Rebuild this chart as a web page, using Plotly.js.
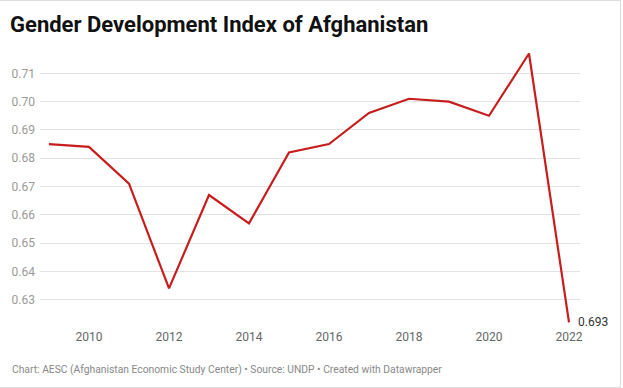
<!DOCTYPE html>
<html>
<head>
<meta charset="utf-8">
<script src="https://cdn.plot.ly/plotly-3.0.1.min.js"></script>
<style>
html,body{margin:0;padding:0;background:#fff;}
#chart{width:623px;height:388px;}
#frame{position:absolute;left:-1px;top:0;width:621px;height:386px;border-top:1px solid #ddd;border-right:1px solid #ddd;border-bottom:1px solid #ddd;pointer-events:none;}
</style>
</head>
<body>
<div id="chart"></div>
<div id="frame"></div>
<script>
const years = [2009,2010,2011,2012,2013,2014,2015,2016,2017,2018,2019,2020,2021,2022];
const gdi = [0.685,0.684,0.671,0.634,0.667,0.657,0.682,0.685,0.696,0.701,0.700,0.695,0.717,0.622];
const lastLabel = "0.693";
const xTicks = [2010,2012,2014,2016,2018,2020,2022];
const yTicks = [0.63,0.64,0.65,0.66,0.67,0.68,0.69,0.70,0.71];
const yTickText = ["0.63","0.64","0.65","0.66","0.67","0.68","0.69","0.70","0.71"];

const trace = {
  x: years, y: gdi, type: 'scatter', mode: 'lines',
  line: {color: '#c71e1d', width: 2.2},
  hoverinfo: 'x+y'
};

const layout = {
  width: 623, height: 388,
  margin: {l: 40, r: 43, t: 45, b: 60},
  paper_bgcolor: '#fff', plot_bgcolor: '#fff',
  font: {family: 'Roboto, sans-serif'},
  showlegend: false,
  title: {
    text: '<b>Gender Development Index of Afghanistan</b>',
    font: {family: 'Roboto, sans-serif', size: 22, color: '#111'},
    x: 10/623, xanchor: 'left', xref: 'container',
    y: 1 - 24/388, yanchor: 'middle', yref: 'container'
  },
  xaxis: {
    range: [2008.775, 2022.275],
    tickvals: xTicks, ticktext: xTicks.map(String),
    showgrid: false, zeroline: false, showline: false, ticks: '',
    tickfont: {family: 'Roboto, sans-serif', size: 12, color: '#666'},
    fixedrange: true
  },
  yaxis: {
    range: [0.62, 0.72],
    tickvals: yTicks, ticktext: yTickText,
    showgrid: true, gridcolor: '#e3e3e3', gridwidth: 1,
    zeroline: false, showline: false, ticks: '',
    ticklabelstandoff: 4,
    tickfont: {family: 'Roboto, sans-serif', size: 12, color: '#999'},
    fixedrange: true
  },
  annotations: [
    {
      x: years[years.length-1], y: gdi[gdi.length-1], xref: 'x', yref: 'y',
      text: lastLabel, showarrow: false, xanchor: 'left', yanchor: 'middle',
      xshift: 7, yshift: 0,
      font: {family: 'Roboto, sans-serif', size: 12, color: '#333'}
    },
    {
      xref: 'paper', yref: 'paper',
      x: (10-40)/(623-83), y: -(369-328)/283,
      text: 'Chart: AESC (Afghanistan Economic Study Center) • Source: UNDP • Created with Datawrapper',
      showarrow: false, xanchor: 'left', yanchor: 'middle',
      font: {family: 'Roboto, sans-serif', size: 10.3, color: '#888'}
    }
  ]
};

Plotly.newPlot('chart', [trace], layout, {displayModeBar: false, staticPlot: true});
</script>
</body>
</html>
